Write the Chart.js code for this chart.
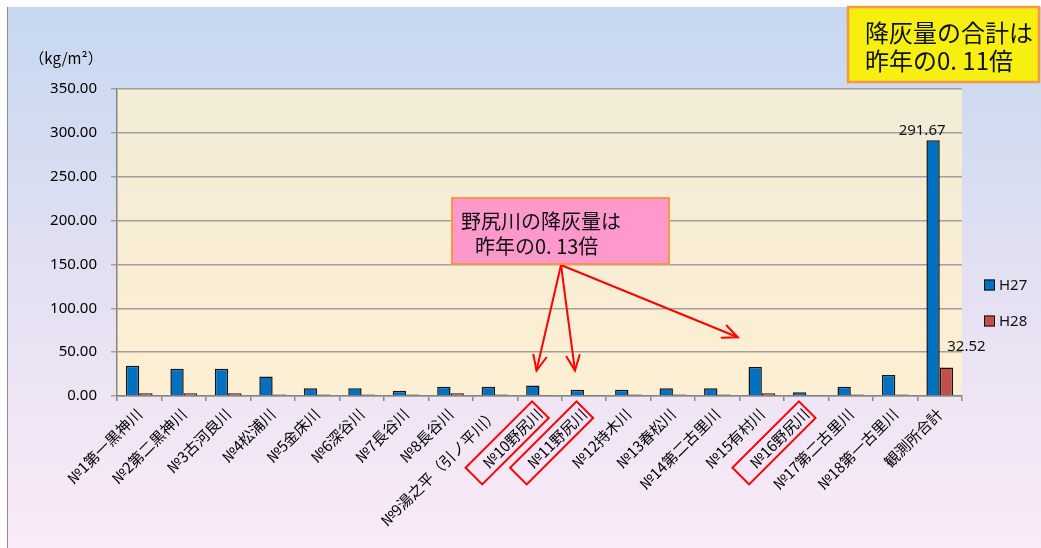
<!DOCTYPE html>
<html><head><meta charset="utf-8">
<script src="https://cdn.jsdelivr.net/npm/chart.js@4"></script>
<style>html,body{margin:0;padding:0;background:#fff}#wrap{width:1041px;height:548px}</style>
</head><body><div id="wrap"><canvas id="c" width="1041" height="548"></canvas></div>
<script>
const categories = ['№1第一黒神川','№2第二黒神川','№3古河良川','№4松浦川','№5金床川','№6深谷川','№7長谷川','№8長谷川','№9湯之平（引ノ平川）','№10野尻川','№11野尻川','№12持木川','№13春松川','№14第二古里川','№15有村川','№16野尻川','№17第二古里川','№18第一古里川','観測所合計'];
const seriesNames = ['H27','H28'];
const h27 = [34.6, 31.2, 31.2, 22.3, 8.9, 8.9, 6.0, 10.5, 10.5, 12.0, 7.1, 7.1, 8.9, 8.9, 33.0, 4.4, 10.5, 23.8, 291.67];
const h28 = [3.0, 3.0, 3.0, 1.6, 1.6, 1.6, 1.6, 3.0, 1.6, 1.0, 1.0, 1.6, 1.6, 1.6, 3.0, 1.0, 1.6, 1.6, 32.52];
const yTicks = [0, 50, 100, 150, 200, 250, 300, 350];
const highlighted = [9, 10, 15];
const unitLabel = '（kg/m²）';
const noteBox1 = ['野尻川の降灰量は', '昨年の0. 13倍'];
const noteBox2 = ['降灰量の合計は', '昨年の0. 11倍'];

const JP = '"Noto Sans CJK JP", "Noto Sans", sans-serif';
const NUM = '"Noto Sans", "DejaVu Sans", sans-serif';
const colors = ['#0070c0', '#c0504d'];

const bgPlugin = {
  id: 'bg',
  beforeDraw(chart) {
    const {ctx, chartArea: a} = chart;
    ctx.save();
    ctx.fillStyle = '#fff'; ctx.fillRect(0, 0, 1041, 548);
    const g = ctx.createLinearGradient(0, 7, 0, 548);
    g.addColorStop(0, '#c5d8f0'); g.addColorStop(0.5, '#e3e0f1'); g.addColorStop(1, '#fbeaf9');
    ctx.fillStyle = g; ctx.fillRect(7, 7, 1041 - 7, 548 - 7);
    ctx.strokeStyle = '#8c8c8c'; ctx.lineWidth = 1;
    ctx.beginPath(); ctx.moveTo(7.5, 7); ctx.lineTo(7.5, 548); ctx.stroke();
    const g2 = ctx.createLinearGradient(0, a.top, 0, a.bottom);
    g2.addColorStop(0, '#f2ebd6'); g2.addColorStop(1, '#fdefd3');
    ctx.fillStyle = g2; ctx.fillRect(a.left, a.top, a.right - a.left, a.bottom - a.top);
    ctx.restore();
  }
};

function arrow(ctx, x0, y0, x1, y1) {
  ctx.beginPath(); ctx.moveTo(x0, y0); ctx.lineTo(x1, y1); ctx.stroke();
  const ang = Math.atan2(y1 - y0, x1 - x0), L = 17, w = 0.42;
  ctx.beginPath();
  ctx.moveTo(x1 - L * Math.cos(ang - w), y1 - L * Math.sin(ang - w));
  ctx.lineTo(x1, y1);
  ctx.lineTo(x1 - L * Math.cos(ang + w), y1 - L * Math.sin(ang + w));
  ctx.stroke();
}

const overlayPlugin = {
  id: 'overlay',
  afterDraw(chart) {
    const {ctx, chartArea: a, scales: {x, y}} = chart;
    ctx.save();
    ctx.fillStyle = '#000'; ctx.font = '15px ' + JP; ctx.textAlign = 'center'; ctx.textBaseline = 'middle';
    ctx.fillText(unitLabel, 66, 58);
    const last = categories.length - 1;
    const b0 = chart.getDatasetMeta(0).data[last], b1 = chart.getDatasetMeta(1).data[last];
    ctx.font = '15px ' + NUM; ctx.fillStyle = '#111';
    ctx.fillText(h27[last].toFixed(2), b0.x - 11, b0.y - 9);
    ctx.fillText(h28[last].toFixed(2), b1.x + 20, b1.y - 21);
    ctx.textAlign = 'left';
    seriesNames.forEach((n, i) => {
      const cy = 285 + i * 36;
      ctx.fillStyle = colors[i]; ctx.fillRect(984, cy - 5.5, 11, 11);
      ctx.strokeStyle = '#111'; ctx.lineWidth = 1; ctx.strokeRect(984.5, cy - 5, 10, 10);
      ctx.fillStyle = '#111'; ctx.font = '15px ' + NUM; ctx.fillText(n, 999, cy + 1);
    });
    ctx.strokeStyle = '#ff0000'; ctx.lineWidth = 2;
    highlighted.forEach(i => {
      const px = x.getPixelForTick(i);
      ctx.save(); ctx.translate(px, a.bottom); ctx.rotate(-Math.PI / 4);
      ctx.strokeRect(-103, -1.5, 94, 23.5);
      ctx.restore();
    });
    const ox = 561, oy = 265;
    ctx.strokeStyle = '#ff0000'; ctx.lineWidth = 2;
    arrow(ctx, ox, oy, x.getPixelForValue(9) - 3, y.getPixelForValue(29));
    arrow(ctx, ox, oy, x.getPixelForValue(10) - 9, y.getPixelForValue(29));
    arrow(ctx, ox, oy, x.getPixelForValue(14) - 24, y.getPixelForValue(67));
    ctx.fillStyle = '#ff99cc'; ctx.fillRect(452, 198, 217, 66);
    ctx.strokeStyle = '#f79646'; ctx.lineWidth = 2; ctx.strokeRect(452, 198, 217, 66);
    ctx.fillStyle = '#111'; ctx.font = '20px ' + JP; ctx.textAlign = 'left'; ctx.textBaseline = 'middle';
    ctx.fillText(noteBox1[0], 461, 221);
    ctx.fillText(noteBox1[1], 475, 246);
    ctx.fillStyle = '#f6ef10'; ctx.fillRect(848, 7, 191, 75);
    ctx.strokeStyle = '#f79646'; ctx.lineWidth = 2.5; ctx.strokeRect(848, 7, 191, 75);
    ctx.fillStyle = '#111'; ctx.font = '24px ' + JP;
    ctx.fillText(noteBox2[0], 865, 33);
    ctx.fillText(noteBox2[1], 865, 61);
    ctx.restore();
  }
};

new Chart(document.getElementById('c'), {
  type: 'bar',
  data: {
    labels: categories,
    datasets: [
      {label: seriesNames[0], data: h27, backgroundColor: colors[0], borderColor: '#141414', borderWidth: 1.5},
      {label: seriesNames[1], data: h28, backgroundColor: colors[1], borderColor: '#141414', borderWidth: 1.5}
    ]
  },
  options: {
    responsive: false,
    animation: false,
    devicePixelRatio: 1,
    layout: {padding: {top: 89, right: 79, left: 0, bottom: 0}},
    datasets: {bar: {categoryPercentage: 0.6, barPercentage: 1}},
    plugins: {legend: {display: false}, tooltip: {enabled: false}},
    scales: {
      x: {
        grid: {display: true, drawOnChartArea: false, drawTicks: true, tickLength: 5, color: '#8c8c8c', lineWidth: 1.5},
        border: {display: true, color: '#868686', width: 1.5},
        ticks: {minRotation: 45, maxRotation: 45, autoSkip: false, padding: 4, color: '#000', font: {family: JP, size: 15}},
        afterFit(s) { s.height = 152; }
      },
      y: {
        min: 0, max: 350,
        afterBuildTicks(s) { s.ticks = yTicks.map(v => ({value: v})); },
        grid: {color: '#a0a0a0', lineWidth: 1.5, tickLength: 6, drawTicks: true},
        border: {display: true, color: '#868686', width: 1.5},
        ticks: {padding: 14, color: '#000', font: {family: NUM, size: 15}, callback: v => Number(v).toFixed(2)},
        afterFit(s) { s.width = 117; }
      }
    }
  },
  plugins: [bgPlugin, overlayPlugin]
});
</script></body></html>
